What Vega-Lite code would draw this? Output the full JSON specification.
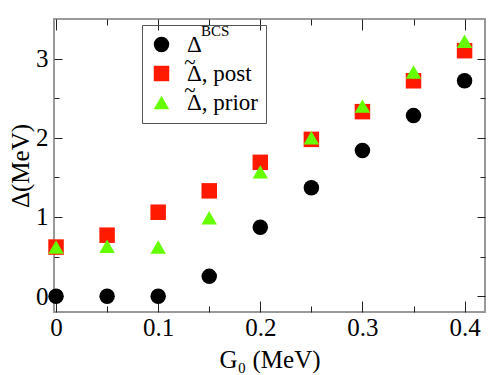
{
  "$schema": "https://vega.github.io/schema/vega-lite/v6.json",
  "width": 431,
  "height": 293,
  "autosize": {"type": "none"},
  "padding": {"left": 54, "top": 19, "right": 13, "bottom": 63},
  "background": "white",
  "config": {
    "view": {"stroke": "#999999", "strokeWidth": 2},
    "axis": {
      "labelFont": "Liberation Serif",
      "titleFont": "Liberation Serif",
      "labelFontSize": 25,
      "titleFontSize": 25,
      "titleFontWeight": "normal",
      "labelColor": "black",
      "titleColor": "black",
      "domain": false,
      "grid": false,
      "tickColor": "#222222",
      "tickWidth": 1
    },
    "legend": {"labelFont": "Liberation Serif"},
    "text": {"font": "Liberation Serif"}
  },
  "data": {
    "values": [
      {"G0": 0.0, "Delta": 0.0, "series": "Δ"},
      {"G0": 0.05, "Delta": 0.0, "series": "Δ"},
      {"G0": 0.1, "Delta": 0.0, "series": "Δ"},
      {"G0": 0.15, "Delta": 0.25, "series": "Δ"},
      {"G0": 0.2, "Delta": 0.87, "series": "Δ"},
      {"G0": 0.25, "Delta": 1.37, "series": "Δ"},
      {"G0": 0.3, "Delta": 1.84, "series": "Δ"},
      {"G0": 0.35, "Delta": 2.28, "series": "Δ"},
      {"G0": 0.4, "Delta": 2.72, "series": "Δ"},
      {"G0": 0.0, "Delta": 0.62, "series": "Δ, post"},
      {"G0": 0.05, "Delta": 0.77, "series": "Δ, post"},
      {"G0": 0.1, "Delta": 1.06, "series": "Δ, post"},
      {"G0": 0.15, "Delta": 1.33, "series": "Δ, post"},
      {"G0": 0.2, "Delta": 1.69, "series": "Δ, post"},
      {"G0": 0.25, "Delta": 1.98, "series": "Δ, post"},
      {"G0": 0.3, "Delta": 2.33, "series": "Δ, post"},
      {"G0": 0.35, "Delta": 2.72, "series": "Δ, post"},
      {"G0": 0.4, "Delta": 3.1, "series": "Δ, post"},
      {"G0": 0.0, "Delta": 0.62, "series": "Δ, prior"},
      {"G0": 0.05, "Delta": 0.63, "series": "Δ, prior"},
      {"G0": 0.1, "Delta": 0.62, "series": "Δ, prior"},
      {"G0": 0.15, "Delta": 0.99, "series": "Δ, prior"},
      {"G0": 0.2, "Delta": 1.57, "series": "Δ, prior"},
      {"G0": 0.25, "Delta": 2.0, "series": "Δ, prior"},
      {"G0": 0.3, "Delta": 2.4, "series": "Δ, prior"},
      {"G0": 0.35, "Delta": 2.83, "series": "Δ, prior"},
      {"G0": 0.4, "Delta": 3.22, "series": "Δ, prior"}
    ]
  },
  "resolve": {"axis": {"x": "independent", "y": "independent"}},
  "layer": [
    {
      "mark": {"type": "point", "filled": true, "opacity": 1, "size": 240},
      "encoding": {
        "x": {
          "field": "G0", "type": "quantitative",
          "scale": {"domain": [-0.002, 0.42], "nice": false, "zero": false},
          "axis": {
            "orient": "bottom",
            "title": "G₀ (MeV)",
            "values": [0, 0.05, 0.1, 0.15, 0.2, 0.25, 0.3, 0.35, 0.4],
            "labelExpr": "abs(datum.value*10 - round(datum.value*10)) < 0.001 ? format(datum.value, '~g') : ''",
            "tickSize": {"condition": {"test": "abs(datum.value*10 - round(datum.value*10)) < 0.001", "value": -11}, "value": -6},
            "labelPadding": 14,
            "titlePadding": 2,
            "labelFlush": false,
            "labelOverlap": false
          }
        },
        "y": {
          "field": "Delta", "type": "quantitative",
          "scale": {"domain": [-0.2, 3.5], "nice": false, "zero": false},
          "axis": {
            "orient": "left",
            "title": "Δ(MeV)",
            "values": [0, 0.5, 1, 1.5, 2, 2.5, 3],
            "labelExpr": "datum.value % 1 === 0 ? format(datum.value, 'd') : ''",
            "tickSize": {"condition": {"test": "datum.value % 1 === 0", "value": -8}, "value": -5},
            "labelPadding": 14,
            "titlePadding": 2,
            "labelFlush": false,
            "labelOverlap": false
          }
        },
        "color": {
          "field": "series", "type": "nominal",
          "scale": {"domain": ["Δ", "Δ, post", "Δ, prior"], "range": ["#000000", "#ff1a00", "#66ff00"]},
          "legend": {
            "title": null,
            "orient": "none",
            "legendX": 88,
            "legendY": 6,
            "strokeColor": "#555555",
            "padding": 8,
            "labelFont": "Liberation Serif",
            "labelFontSize": 23,
            "labelColor": "black",
            "symbolSize": 240,
            "symbolStrokeWidth": 0,
            "rowPadding": 5,
            "labelOffset": 14,
            "labelLimit": 200
          }
        },
        "shape": {
          "field": "series", "type": "nominal",
          "scale": {"domain": ["Δ", "Δ, post", "Δ, prior"], "range": ["circle", "square", "triangle-up"]}
        }
      }
    },
    {
      "data": {"values": [{}]},
      "mark": {"type": "text", "font": "Liberation Serif", "fontSize": 15, "color": "black", "baseline": "middle", "align": "center"},
      "encoding": {
        "x": {"datum": 0.1557, "type": "quantitative", "axis": null},
        "y": {"datum": 3.348, "type": "quantitative", "axis": null},
        "text": {"value": "BCS"}
      }
    },
    {
      "data": {"values": [{}]},
      "mark": {"type": "text", "font": "Liberation Serif", "fontSize": 21, "color": "black", "baseline": "middle", "align": "center"},
      "encoding": {
        "x": {"datum": 0.131, "type": "quantitative", "axis": null},
        "y": {"datum": 2.944, "type": "quantitative", "axis": null},
        "text": {"value": "~"}
      }
    },
    {
      "data": {"values": [{}]},
      "mark": {"type": "text", "font": "Liberation Serif", "fontSize": 21, "color": "black", "baseline": "middle", "align": "center"},
      "encoding": {
        "x": {"datum": 0.131, "type": "quantitative", "axis": null},
        "y": {"datum": 2.585, "type": "quantitative", "axis": null},
        "text": {"value": "~"}
      }
    },
    {
      "mark": {"type": "point", "opacity": 0},
      "encoding": {
        "x": {
          "field": "G0", "type": "quantitative",
          "axis": {
            "orient": "top", "title": null, "labels": false,
            "values": [0, 0.05, 0.1, 0.15, 0.2, 0.25, 0.3, 0.35, 0.4],
            "tickSize": {"condition": {"test": "abs(datum.value*10 - round(datum.value*10)) < 0.001", "value": -11}, "value": -6}
          }
        },
        "y": {
          "field": "Delta", "type": "quantitative",
          "axis": {
            "orient": "right", "title": null, "labels": false,
            "values": [0, 0.5, 1, 1.5, 2, 2.5, 3],
            "tickSize": {"condition": {"test": "datum.value % 1 === 0", "value": -8}, "value": -5}
          }
        }
      }
    }
  ]
}
